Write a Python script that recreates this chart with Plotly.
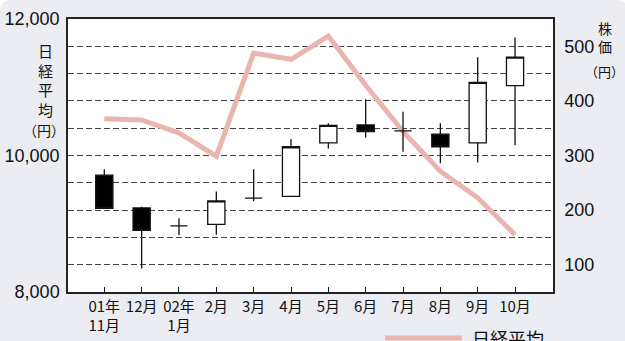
import plotly.graph_objects as go

# Month labels along the x axis
months = ["01年<br>11月", "12月", "02年<br>1月", "2月", "3月", "4月",
          "5月", "6月", "7月", "8月", "9月", "10月"]

# Nikkei average, month-end (left axis, yen)
nikkei = [10540, 10520, 10330, 9990, 11500, 11410,
          11750, 11030, 10350, 9770, 9380, 8840]

# Monthly share price candles (right axis, yen)
price_open = [264, 204, 171, 174, 222, 225, 323, 356, 345, 339, 323, 428]
price_high = [275, 206, 185, 234, 275, 330, 359, 403, 380, 359, 480, 516]
price_low = [203, 93, 154, 155, 216, 225, 313, 333, 307, 286, 287, 319]
price_close = [203, 163, 171, 217, 222, 316, 355, 344, 345, 316, 434, 480]

left_ticks = [8000, 10000, 12000]
right_ticks = [100, 200, 300, 400, 500]

FONT = "Liberation Sans, Arial, Noto Sans CJK JP, sans-serif"
CJK = "Noto Sans CJK JP, Liberation Sans, sans-serif"
PINK = "#e9b5ae"
BG = "#ecedf2"

W, H = 625, 341
ML, MR, MT, MB = 68, 72, 19, 49
PW, PH = W - ML - MR, H - MT - MB


def px(x):
    return (x - ML) / PW


def py(y):
    return (H - MB - y) / PH


xs = list(range(len(months)))

fig = go.Figure()

fig.add_trace(go.Scatter(
    x=xs, y=nikkei, mode="lines", name="日経平均",
    line=dict(color=PINK, width=5), yaxis="y", showlegend=False,
))

fig.add_trace(go.Candlestick(
    x=xs, open=price_open, high=price_high, low=price_low, close=price_close,
    yaxis="y2", whiskerwidth=0, showlegend=False,
    increasing=dict(line=dict(color="#111", width=1.3), fillcolor="white"),
    decreasing=dict(line=dict(color="#111", width=1.3), fillcolor="black"),
))

# rounded panel background and white plotting area
r = 12
x0, x1 = px(0), px(628)
y0, y1 = py(400), py(0)
rx, ry = r / PW, r / PH
panel = (f"M{x0},{y0} L{x0},{y1 - ry} Q{x0},{y1} {x0 + rx},{y1} "
         f"L{x1 - rx},{y1} Q{x1},{y1} {x1},{y1 - ry} L{x1},{y0} Z")
shapes = [
    dict(type="path", xref="paper", yref="paper", path=panel,
         fillcolor=BG, line=dict(width=0), layer="below"),
    dict(type="rect", xref="paper", yref="paper", x0=0, x1=1, y0=0, y1=1,
         fillcolor="white", line=dict(width=0), layer="below"),
    # legend swatch
    dict(type="line", xref="paper", yref="paper",
         x0=px(385), x1=px(462), y0=py(338), y1=py(338),
         line=dict(color=PINK, width=5)),
]


def label(text, x, y, size, anchor="center"):
    return dict(text=text, x=px(x), y=py(y), xref="paper", yref="paper",
                showarrow=False, font=dict(family=CJK, size=size, color="#111"),
                xanchor=anchor, yanchor="middle")


annotations = [
    # left axis title, stacked vertically
    label("日<br>経<br>平<br>均", 45, 80, 15),
    label("（円）", 44, 130, 14),
    # right axis title
    label("株<br>価", 605, 37, 14),
    label("（円）", 604, 71, 13),
    # legend label
    label("日経平均", 470, 338, 18, anchor="left"),
]

step = 37.34
fig.update_layout(
    width=W, height=H,
    margin=dict(l=ML, r=MR, t=MT, b=MB, pad=0, autoexpand=False),
    paper_bgcolor="white", plot_bgcolor="white",
    font=dict(family=FONT, color="#111"),
    boxgap=0.54, boxgroupgap=0,
    shapes=shapes, annotations=annotations,
    xaxis=dict(
        range=[(ML - 104.3) / step, (ML + PW - 104.3) / step],
        tickvals=xs, ticktext=months, tickfont=dict(family=CJK, size=15),
        ticks="inside", ticklen=5, tickcolor="#111", tickwidth=1,
        showgrid=False, zeroline=False, rangeslider=dict(visible=False),
        showline=True, linecolor="#222", linewidth=1.5, mirror=True,
        automargin=False,
    ),
    yaxis=dict(
        range=[8000, 12000], tickvals=left_ticks, tickformat=",d",
        tickfont=dict(size=18), ticks="", showgrid=False, zeroline=False,
        showline=True, linecolor="#222", linewidth=1.5, ticklabelstandoff=3,
        automargin=False,
    ),
    yaxis2=dict(
        range=[50, 550], overlaying="y", side="right",
        tickvals=right_ticks, tickfont=dict(size=18), ticks="",
        showgrid=True, gridcolor="#444", gridwidth=1, griddash="6px,3px",
        minor=dict(dtick=50, tick0=0, showgrid=True, gridcolor="#444",
                   gridwidth=1, griddash="6px,3px", ticks=""),
        zeroline=False, showline=True, linecolor="#222", linewidth=1.5,
        ticklabelstandoff=6, automargin=False,
    ),
)

fig.write_html("out.html")
